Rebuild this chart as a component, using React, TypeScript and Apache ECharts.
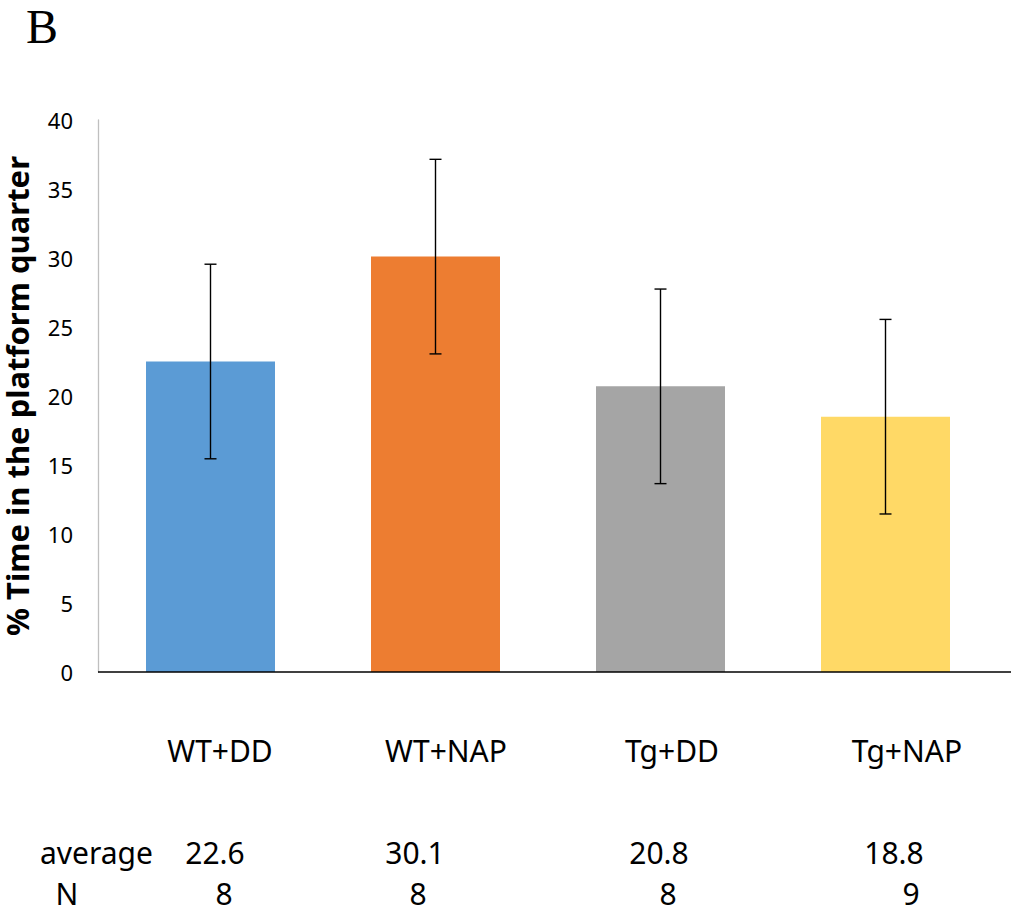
import React, { useEffect, useRef } from "react";
import * as echarts from "echarts";

const categories = ["WT+DD", "WT+NAP", "Tg+DD", "Tg+NAP"];
const meanValues = [22.5, 30.1, 20.7, 18.5];
const errorValues = [7.05, 7.05, 7.05, 7.05];
const barColors = ["#5B9BD5", "#ED7D31", "#A5A5A5", "#FFD966"];
const averageLabels = ["22.6", "30.1", "20.8", "18.8"];
const nLabels = ["8", "8", "8", "9"];
const yTicks = { min: 0, max: 40, interval: 5 };

// layout constants for the text table under the chart
const catLabelX = [220, 446, 672, 907];
const avgLabelX = [215, 415, 659, 894];
const nLabelX = [224, 418, 668, 911];

const FONT = "'Noto Sans', 'Open Sans', sans-serif";
const TABLE_FONT = `30px ${FONT}`;

export default function App() {
  const ref = useRef<HTMLDivElement>(null);
  useEffect(() => {
    if (!ref.current) return;
    const chart = echarts.init(ref.current, null, { renderer: "svg" });
    const graphics: any[] = [
      {
        type: "text",
        left: 26,
        top: 2,
        style: { text: "B", font: "48px 'Liberation Serif', 'Times New Roman', serif", fill: "#000" },
      },
      {
        type: "line",
        shape: { x1: 98, y1: 672, x2: 1011, y2: 672 },
        style: { stroke: "#000", lineWidth: 1.3 },
        z: 10,
      },
    ];
    categories.forEach((c, i) => {
      graphics.push({
        type: "text",
        x: catLabelX[i],
        y: 750,
        style: { text: c, font: TABLE_FONT, fill: "#000", align: "center", verticalAlign: "middle" },
      });
      graphics.push({
        type: "text",
        x: avgLabelX[i],
        y: 852,
        style: { text: averageLabels[i], font: TABLE_FONT, fill: "#000", align: "center", verticalAlign: "middle" },
      });
      graphics.push({
        type: "text",
        x: nLabelX[i],
        y: 893,
        style: { text: nLabels[i], font: TABLE_FONT, fill: "#000", align: "center", verticalAlign: "middle" },
      });
    });
    graphics.push({
      type: "text",
      x: 40,
      y: 852,
      style: { text: "average", font: TABLE_FONT, fill: "#000", align: "left", verticalAlign: "middle" },
    });
    graphics.push({
      type: "text",
      x: 67,
      y: 893,
      style: { text: "N", font: TABLE_FONT, fill: "#000", align: "center", verticalAlign: "middle" },
    });

    chart.setOption({
      animation: false,
      backgroundColor: "#fff",
      grid: { left: 98, right: 15, top: 120, bottom: 243, containLabel: false, outerBoundsMode: "none" },
      xAxis: {
        type: "category",
        data: categories,
        axisLine: { show: false },
        axisTick: { show: false },
        axisLabel: { show: false },
      },
      yAxis: {
        type: "value",
        min: yTicks.min,
        max: yTicks.max,
        interval: yTicks.interval,
        name: "% Time in the platform quarter",
        nameLocation: "middle",
        nameGap: 66,
        nameTextStyle: { fontFamily: FONT, fontSize: 31, fontWeight: "bold", color: "#000" },
        axisLine: { show: true, lineStyle: { color: "#BFBFBF", width: 1.3 } },
        axisTick: { show: false },
        splitLine: { show: false },
        axisLabel: { fontFamily: FONT, fontSize: 22, color: "#000", margin: 25 },
      },
      series: [
        {
          type: "bar",
          data: meanValues.map((v, i) => ({ value: v, itemStyle: { color: barColors[i] } })),
          barWidth: 129,
        },
        {
          type: "custom",
          data: meanValues.map((v, i) => [i, v - errorValues[i], v + errorValues[i]]),
          z: 5,
          renderItem: (params: any, api: any) => {
            const x = api.value(0);
            const lo = api.coord([x, api.value(1)]);
            const hi = api.coord([x, api.value(2)]);
            const hw = 6;
            const style = { stroke: "#000", lineWidth: 1.4 };
            return {
              type: "group",
              children: [
                { type: "line", shape: { x1: lo[0], y1: lo[1], x2: hi[0], y2: hi[1] }, style },
                { type: "line", shape: { x1: hi[0] - hw, y1: hi[1], x2: hi[0] + hw, y2: hi[1] }, style },
                { type: "line", shape: { x1: lo[0] - hw, y1: lo[1], x2: lo[0] + hw, y2: lo[1] }, style },
              ],
            };
          },
        },
      ],
      graphic: graphics,
    });
    return () => chart.dispose();
  }, []);
  return <div ref={ref} style={{ width: 1013, height: 915, position: "absolute", left: 0, top: 0 }} />;
}
